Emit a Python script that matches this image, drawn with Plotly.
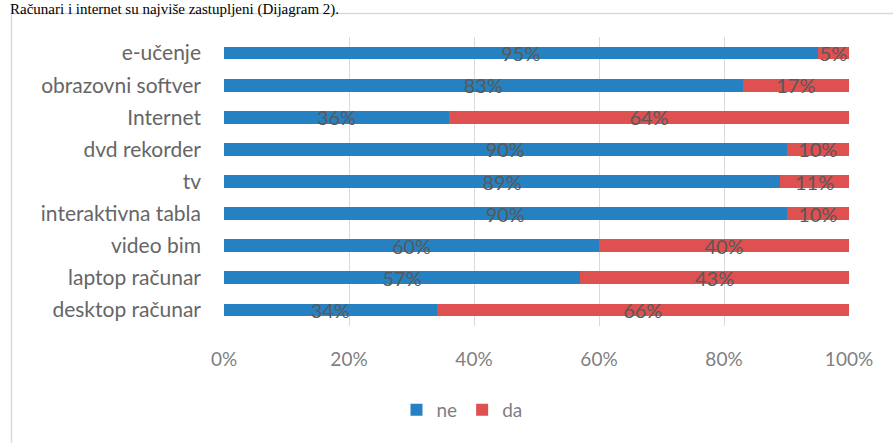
import plotly.graph_objects as go

categories = ["desktop računar", "laptop računar", "video bim", "interaktivna tabla",
              "tv", "dvd rekorder", "Internet", "obrazovni softver", "e-učenje"]
ne_values = [34, 57, 60, 90, 89, 90, 36, 83, 95]
da_values = [66, 43, 40, 10, 11, 10, 64, 17, 5]
x_ticks = [0, 20, 40, 60, 80, 100]
x_tick_labels = ["0%", "20%", "40%", "60%", "80%", "100%"]

FONT = "Lato"
fig = go.Figure()
fig.add_trace(go.Bar(
    y=categories, x=ne_values, name="ne", orientation="h",
    marker=dict(color="#2681C2", line=dict(width=0)),
    text=[f"{v}%" for v in ne_values], textposition="inside",
    insidetextanchor="middle", textangle=0,
    textfont=dict(family=FONT, size=20, color="#595959"),
    constraintext="none", cliponaxis=False,
))
fig.add_trace(go.Bar(
    y=categories, x=da_values, name="da", orientation="h",
    marker=dict(color="#DF5050", line=dict(width=0)),
    text=[f"{v}%" for v in da_values], textposition="inside",
    insidetextanchor="middle", textangle=0,
    textfont=dict(family=FONT, size=20, color="#595959"),
    constraintext="none", cliponaxis=False,
))

W, H = 893, 443
L, R, T, B = 224, 44, 37, 117
pw, ph = W - L - R, H - T - B

def px2x(px):
    return (px - L) / pw

def py2y(py):
    return (H - B - py) / ph

fig.update_layout(
    width=W, height=H, barmode="stack", bargap=0.6,
    margin=dict(l=L, r=R, t=T, b=B),
    paper_bgcolor="white", plot_bgcolor="white",
    font=dict(family=FONT, color="#595959"),
    xaxis=dict(range=[0, 100], tickvals=x_ticks, ticktext=x_tick_labels,
               showgrid=True, gridcolor="#D9D9D9", gridwidth=1,
               zeroline=False, showline=False, ticks="",
               tickfont=dict(family=FONT, size=19, color="#7F7F7F"),
               ticklabelstandoff=20),
    yaxis=dict(categoryorder="array", categoryarray=categories,
               showgrid=False, zeroline=False, showline=False, ticks="",
               tickfont=dict(family=FONT, size=21, color="#666666"),
               ticklabelstandoff=22),
    legend=dict(orientation="h", x=px2x(462), y=py2y(410),
                xanchor="center", yanchor="middle",
                font=dict(family=FONT, size=19, color="#7F7F7F"),
                itemwidth=30, traceorder="normal"),
    shapes=[dict(type="rect", xref="paper", yref="paper",
                 x0=px2x(11.5), x1=px2x(W + 20), y0=py2y(H + 20), y1=py2y(13.5),
                 line=dict(color="#D9D9D9", width=1.5), fillcolor="rgba(0,0,0,0)",
                 layer="below")],
    annotations=[dict(text="Računari i internet su najviše zastupljeni (Dijagram 2).",
                      xref="paper", yref="paper", x=px2x(8), y=py2y(-1),
                      xanchor="left", yanchor="top", showarrow=False,
                      font=dict(family="Liberation Serif", size=15, color="#000000"))],
)

fig.write_html("out.html", config={"displayModeBar": False},
               post_script="document.body.style.margin='0';")
